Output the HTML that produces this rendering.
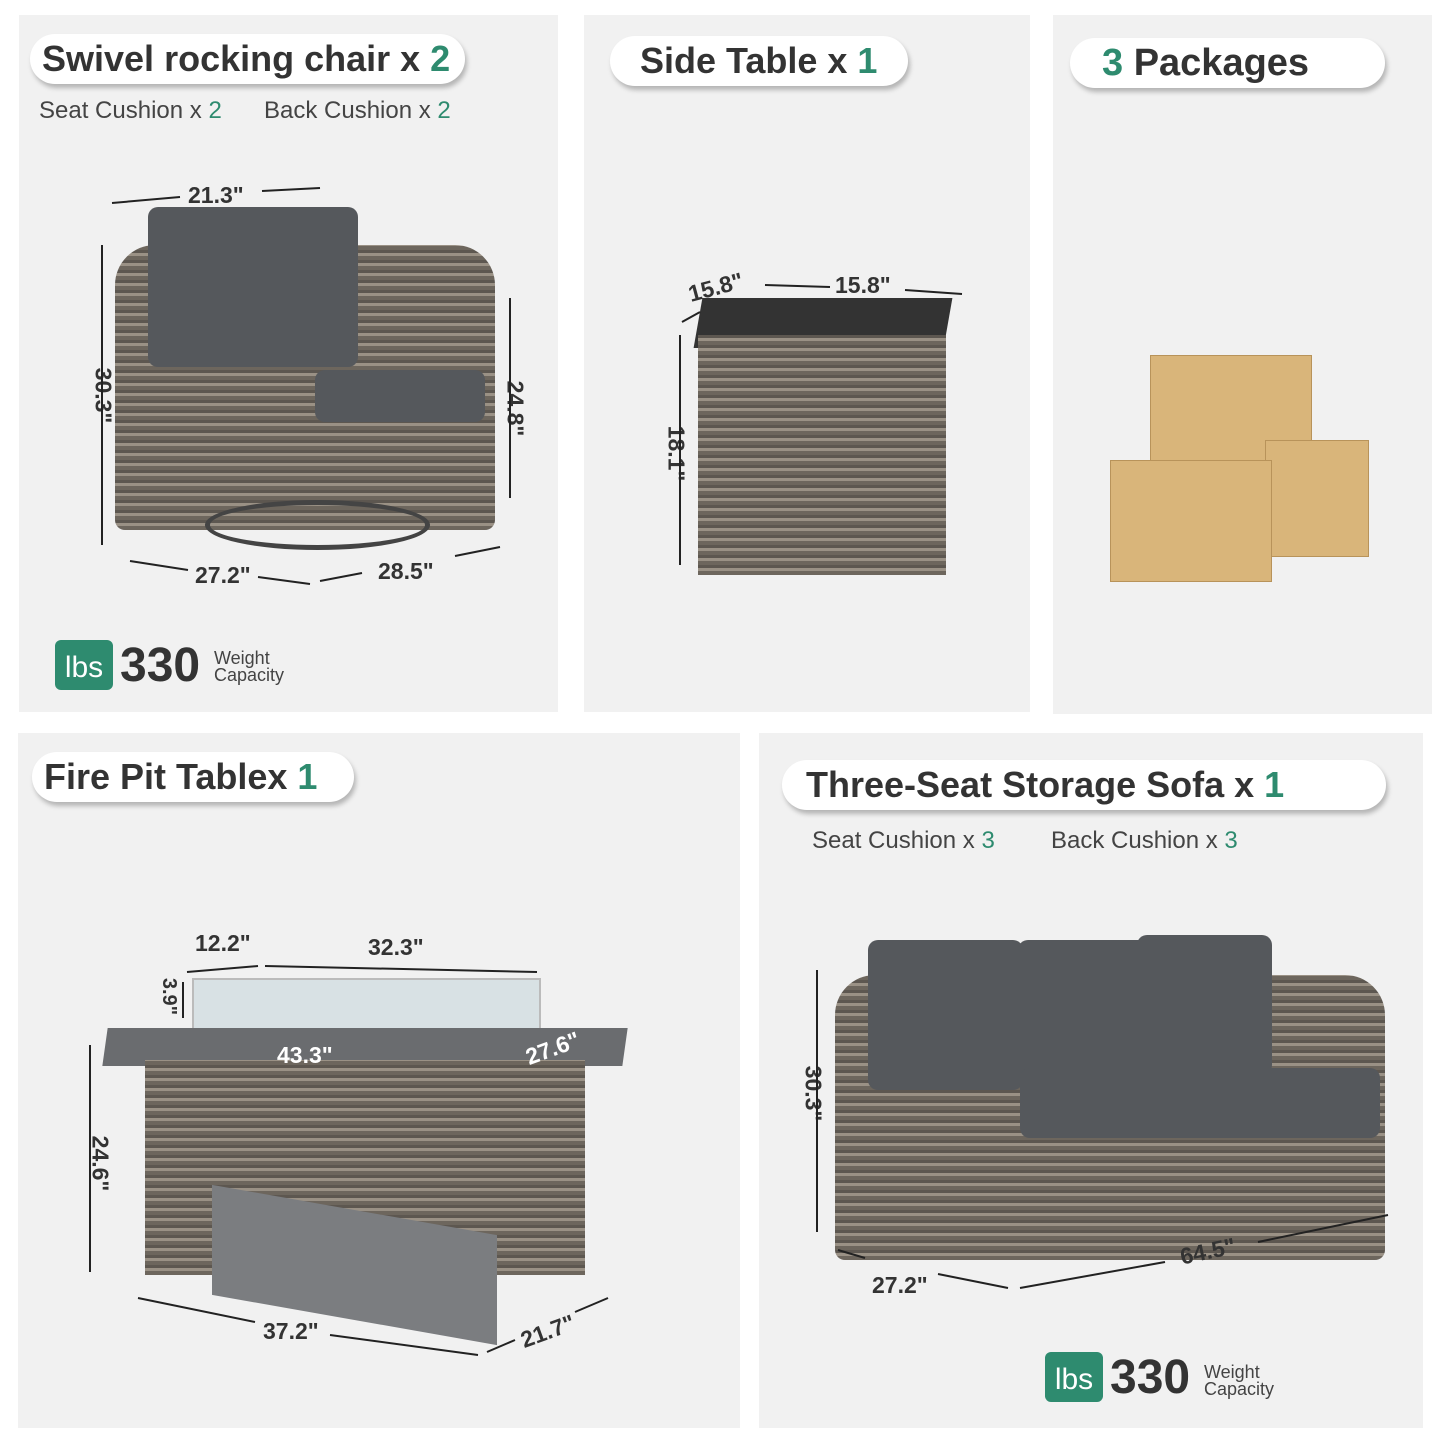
<!DOCTYPE html>
<html><head><meta charset="utf-8"><style>
body{margin:0;width:1445px;height:1445px;background:#fff;position:relative;overflow:hidden;font-family:"Liberation Sans",sans-serif}
.p{position:absolute;background:#f1f1f1}
.pill{position:absolute;background:#fff;border-radius:26px;box-shadow:2px 4px 5px rgba(0,0,0,.25);font-weight:bold;color:#333;font-size:36px;line-height:50px;padding-left:12px;box-sizing:border-box;white-space:nowrap}
.g{color:#2e8b6f}
.t{position:absolute;font-size:24px;color:#444;white-space:nowrap}
.d{position:absolute;font-size:23px;font-weight:bold;color:#333;white-space:nowrap}
.w{position:absolute;background:repeating-linear-gradient(0deg,#6d665d 0 4px,#9a9185 4px 7px,#5d5750 7px 10px)}
.c{position:absolute;background:#55585c;border-radius:10px}
.box{position:absolute;background:#d9b57a;border:1px solid #b8935a}
.big{position:absolute;font-size:48px;font-weight:bold;color:#333}
.sm{position:absolute;font-size:18px;color:#444;line-height:17px}
.lbs{position:absolute;width:58px;height:50px;background:#2e8b6f;border-radius:6px;color:#fff;font-size:30px;text-align:center;line-height:56px}
svg{position:absolute;left:0;top:0}
</style></head><body>
<div class="p" style="left:19px;top:15px;width:539px;height:697px"></div>
<div class="p" style="left:584px;top:15px;width:446px;height:697px"></div>
<div class="p" style="left:1053px;top:15px;width:379px;height:699px"></div>
<div class="p" style="left:18px;top:733px;width:722px;height:695px"></div>
<div class="p" style="left:759px;top:733px;width:664px;height:695px"></div>

<div class="pill" style="left:30px;top:34px;width:435px">Swivel rocking chair x <span class="g">2</span></div>
<div class="t" style="left:39px;top:97px">Seat Cushion x <span class="g">2</span></div>
<div class="t" style="left:264px;top:97px">Back Cushion x <span class="g">2</span></div>
<div class="pill" style="left:610px;top:36px;width:298px;padding-left:30px">Side Table x <span class="g">1</span></div>
<div class="pill" style="left:1070px;top:38px;width:315px;padding-left:32px;font-size:38px"><span class="g">3</span> Packages</div>
<div class="pill" style="left:32px;top:752px;width:322px">Fire Pit Tablex <span class="g">1</span></div>
<div class="pill" style="left:782px;top:760px;width:604px;padding-left:24px">Three-Seat Storage Sofa x <span class="g">1</span></div>
<div class="t" style="left:812px;top:827px">Seat Cushion x <span class="g">3</span></div>
<div class="t" style="left:1051px;top:827px">Back Cushion x <span class="g">3</span></div>

<!-- chair -->
<div class="w" style="left:115px;top:245px;width:380px;height:285px;border-radius:40px 40px 10px 10px"></div>
<div class="c" style="left:148px;top:207px;width:210px;height:160px"></div>
<div class="c" style="left:315px;top:370px;width:170px;height:52px"></div>
<div style="position:absolute;left:205px;top:500px;width:225px;height:50px;border:5px solid #444;border-radius:50%;box-sizing:border-box"></div>
<div class="d" style="left:188px;top:182px">21.3"</div>
<div class="d" style="left:195px;top:562px">27.2"</div>
<div class="d" style="left:378px;top:558px">28.5"</div>
<div class="d" style="left:75px;top:382px;transform:rotate(90deg)">30.3"</div>
<div class="d" style="left:487px;top:395px;transform:rotate(90deg)">24.8"</div>
<div class="lbs" style="left:55px;top:640px">lbs</div>
<div class="big" style="left:120px;top:638px">330</div>
<div class="sm" style="left:214px;top:650px">Weight<br>Capacity</div>

<!-- side table -->
<div style="position:absolute;left:698px;top:298px;width:250px;height:50px;background:#333;transform:skewX(-10deg)"></div>
<div class="w" style="left:698px;top:335px;width:248px;height:240px"></div>
<div class="d" style="left:688px;top:274px;transform:rotate(-15deg)">15.8"</div>
<div class="d" style="left:835px;top:272px">15.8"</div>
<div class="d" style="left:648px;top:440px;transform:rotate(90deg)">18.1"</div>

<!-- boxes -->
<div class="box" style="left:1150px;top:355px;width:160px;height:125px"></div>
<div class="box" style="left:1265px;top:440px;width:102px;height:115px"></div>
<div class="box" style="left:1110px;top:460px;width:160px;height:120px"></div>

<!-- fire pit -->
<div style="position:absolute;left:192px;top:978px;width:345px;height:55px;background:rgba(200,215,220,.6);border:2px solid #bbb"></div>
<div style="position:absolute;left:105px;top:1028px;width:520px;height:38px;background:#6a6c6f;transform:skewX(-8deg)"></div>
<div class="w" style="left:145px;top:1060px;width:440px;height:215px"></div>
<div style="position:absolute;left:212px;top:1210px;width:285px;height:110px;background:#7b7d80;transform:skewY(10deg)"></div>
<div class="d" style="left:195px;top:930px">12.2"</div>
<div class="d" style="left:368px;top:934px">32.3"</div>
<div class="d" style="left:150px;top:985px;transform:rotate(90deg);font-size:20px">3.9"</div>
<div class="d" style="left:277px;top:1042px;color:#fff">43.3"</div>
<div class="d" style="left:525px;top:1035px;color:#fff;transform:rotate(-20deg)">27.6"</div>
<div class="d" style="left:72px;top:1150px;transform:rotate(90deg)">24.6"</div>
<div class="d" style="left:263px;top:1318px">37.2"</div>
<div class="d" style="left:520px;top:1318px;transform:rotate(-20deg)">21.7"</div>

<!-- sofa -->
<div class="w" style="left:835px;top:975px;width:550px;height:285px;border-radius:40px 40px 10px 10px"></div>
<div class="c" style="left:868px;top:940px;width:155px;height:150px"></div>
<div class="c" style="left:1018px;top:940px;width:145px;height:150px"></div>
<div class="c" style="left:1137px;top:935px;width:135px;height:140px"></div>
<div class="c" style="left:1020px;top:1068px;width:360px;height:70px"></div>
<div class="d" style="left:785px;top:1080px;transform:rotate(90deg)">30.3"</div>
<div class="d" style="left:872px;top:1272px">27.2"</div>
<div class="d" style="left:1180px;top:1238px;transform:rotate(-12deg)">64.5"</div>
<div class="lbs" style="left:1045px;top:1352px">lbs</div>
<div class="big" style="left:1110px;top:1350px">330</div>
<div class="sm" style="left:1204px;top:1364px">Weight<br>Capacity</div>

<svg width="1445" height="1445" stroke="#222" stroke-width="2" fill="none">
<line x1="112" y1="203" x2="180" y2="197"/><line x1="262" y1="191" x2="320" y2="188"/>
<line x1="102" y1="245" x2="102" y2="545"/><line x1="510" y1="298" x2="510" y2="498"/>
<line x1="130" y1="561" x2="188" y2="570"/><line x1="258" y1="577" x2="310" y2="584"/>
<line x1="320" y1="581" x2="362" y2="573"/><line x1="455" y1="556" x2="500" y2="547"/>
<line x1="765" y1="285" x2="830" y2="287"/><line x1="905" y1="290" x2="962" y2="294"/>
<line x1="680" y1="335" x2="680" y2="565"/><line x1="682" y1="322" x2="700" y2="312"/>
<line x1="187" y1="972" x2="258" y2="966"/><line x1="265" y1="966" x2="537" y2="972"/>
<line x1="183" y1="982" x2="183" y2="1018"/><line x1="90" y1="1045" x2="90" y2="1272"/>
<line x1="138" y1="1298" x2="255" y2="1322"/><line x1="330" y1="1335" x2="478" y2="1355"/>
<line x1="487" y1="1352" x2="515" y2="1340"/><line x1="575" y1="1312" x2="608" y2="1298"/>
<line x1="817" y1="970" x2="817" y2="1232"/>
<line x1="838" y1="1250" x2="865" y2="1258"/><line x1="938" y1="1274" x2="1008" y2="1288"/>
<line x1="1020" y1="1288" x2="1165" y2="1262"/><line x1="1258" y1="1242" x2="1388" y2="1215"/>
</svg>
</body></html>
